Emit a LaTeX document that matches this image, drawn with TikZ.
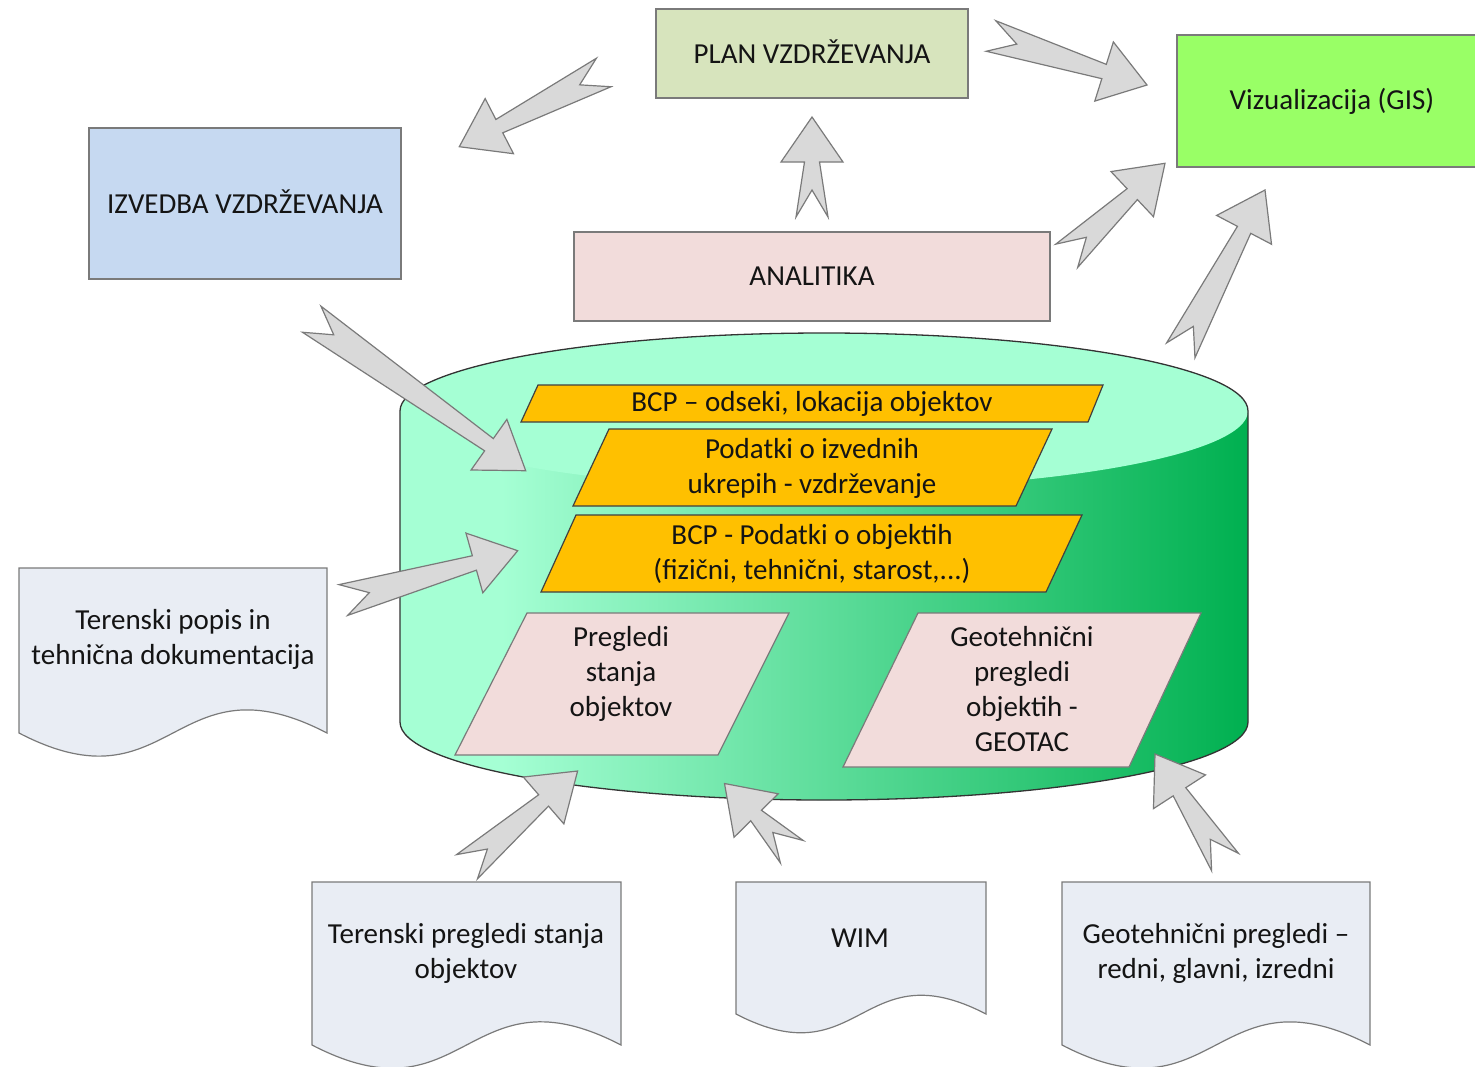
\documentclass[tikz,border=0pt]{standalone}
\usepackage{fontspec}
\setmainfont{Carlito}
\usetikzlibrary{calc}
\definecolor{mint}{HTML}{A5FFD4}
\definecolor{dgreen}{HTML}{00B050}
\definecolor{orng}{HTML}{FFC000}
\definecolor{pinkf}{HTML}{F2DCDB}
\definecolor{planf}{HTML}{D7E4BD}
\definecolor{izvf}{HTML}{C6D9F1}
\definecolor{gisf}{HTML}{99FF66}
\definecolor{docf}{HTML}{E9EDF4}
\definecolor{arrf}{HTML}{D9D9D9}
\definecolor{edgec}{HTML}{7A7A7A}
\definecolor{txt}{HTML}{141414}
\pgfdeclarehorizontalshading{cylshade}{100bp}{color(0bp)=(mint); color(31bp)=(mint); color(75bp)=(dgreen); color(100bp)=(dgreen)}
\tikzset{
  boxst/.style={draw=edgec, line width=1.2pt, inner sep=0pt, outer sep=0pt, text=txt, align=center},
  barrow/.style={draw=edgec, fill=arrf, line width=1.2pt, line join=miter},
  docst/.style={draw=edgec, fill=docf, line width=1.2pt},
  orpar/.style={draw=black!75, fill=orng, line width=1.2pt},
  pkpar/.style={draw=edgec, fill=pinkf, line width=1.2pt},
  lbl/.style={text=txt, align=center, inner sep=0pt}
}
\newcommand{\blockarrow}[2]{%
  \coordinate (hb) at ($(#2)!45pt!(#1)$);
  \draw[barrow] ($(#1)!16pt!90:(#2)$) -- ($(hb)!7.5pt!90:(#2)$) -- ($(hb)!31pt!90:(#2)$) -- (#2)
    -- ($(hb)!31pt!-90:(#2)$) -- ($(hb)!7.5pt!-90:(#2)$) -- ($(#1)!16pt!-90:(#2)$) -- ($(#1)!27pt!(#2)$) -- cycle;
}
\newcommand{\docshape}[4]{%
  \draw[docst] (#1,#3) -- (#2,#3) -- (#2,#4) .. controls ({(#1+#2)/2},{#4-0.26*(#2-#1)}) and ({(#1+#2)/2},{#4+0.26*(#2-#1)}) .. (#1,#4) -- cycle;
}
\begin{document}
\begin{tikzpicture}[x=1pt, y=-1pt, font=\fontsize{29}{35}\selectfont]
\useasboundingbox (0,0) rectangle (1475,1066);

% cylinder
\path[shading=cylshade] (400,411) arc[start angle=180, end angle=360, x radius=424, y radius=78]
  -- (1248,722) arc[start angle=0, end angle=180, x radius=424, y radius=78] -- cycle;
\fill[mint] (824,411) ellipse [x radius=424, y radius=78];
\draw[black!80, line width=1.3pt] (400,411) arc[start angle=180, end angle=360, x radius=424, y radius=78]
  -- (1248,722) arc[start angle=0, end angle=180, x radius=424, y radius=78] -- cycle;

% boxes
\node[boxst, fill=planf, minimum width=312pt, minimum height=89pt] (plan) at (812,53.5) {\raisebox{3pt}{PLAN VZDRŽEVANJA}};
\node[boxst, fill=izvf, minimum width=312pt, minimum height=151pt] (izv) at (245,203.5) {\raisebox{3pt}{IZVEDBA VZDRŽEVANJA}};
\node[boxst, fill=gisf, minimum width=310pt, minimum height=132pt] (gis) at (1332,101) {Vizualizacija (GIS)};
\node[boxst, fill=pinkf, minimum width=476pt, minimum height=89pt] (anal) at (812,276.5) {ANALITIKA};

% parallelograms in the cylinder
\draw[orpar] (538,385) -- (1103,385) -- (1088,422) -- (521,422) -- cycle;
\node[lbl] (bcp1) at (812,404) {BCP – odseki, lokacija objektov};
\draw[orpar] (609,429) -- (1052,429) -- (1016,506) -- (573,506) -- cycle;
\node[lbl] (izvpod) at (812,468) {Podatki o izvednih\\ukrepih - vzdrževanje};
\draw[orpar] (576,515) -- (1082,515) -- (1046,592) -- (541,592) -- cycle;
\node[lbl] (bcp2) at (812,554) {BCP - Podatki o objektih\\(fizični, tehnični, starost,...)};
\draw[pkpar] (527,613) -- (789,613) -- (718,755) -- (455,755) -- cycle;
\node[lbl] (preg) at (621,674) {Pregledi\\stanja\\objektov};
\draw[pkpar] (918,613) -- (1201,613) -- (1129,767) -- (843,767) -- cycle;
\node[lbl] (geo) at (1022,689) {Geotehnični\\pregledi\\objektih -\\GEOTAC};

% documents
\docshape{19}{327}{568}{733}
\node[lbl] (teren1) at (173,639) {Terenski popis in\\tehnična dokumentacija};
\docshape{312}{621}{882}{1045}
\node[lbl] (teren2) at (466,953) {Terenski pregledi stanja\\objektov};
\docshape{736}{986}{882}{1014}
\node[lbl] (wim) at (860,938) {WIM};
\docshape{1062}{1370}{882}{1045}
\node[lbl] (geo2) at (1216,953) {Geotehnični pregledi –\\redni, glavni, izredni};

% block arrows
\coordinate (a1s) at (603.7,72.5);  \coordinate (a1e) at (459.3,146.7);
\coordinate (a2s) at (991,36);      \coordinate (a2e) at (1147,85);
\coordinate (a3s) at (812,217);     \coordinate (a3e) at (812,117);
\coordinate (a4s) at (1066.7,255.8);\coordinate (a4e) at (1165,163.3);
\coordinate (a5s) at (1180.8,350.3);\coordinate (a5e) at (1265,190);
\coordinate (a6s) at (311.7,319.2); \coordinate (a6e) at (525.7,470.7);
\coordinate (a7s) at (343.3,600);   \coordinate (a7e) at (517.7,550.7);
\coordinate (a8s) at (467,866.7);   \coordinate (a8e) at (577.6,771);
\coordinate (a9s) at (791.8,851.7); \coordinate (a9e) at (724.5,783.5);
\coordinate (a10s) at (1225,862);   \coordinate (a10e) at (1155,754);
\blockarrow{a1s}{a1e}
\blockarrow{a2s}{a2e}
\blockarrow{a3s}{a3e}
\blockarrow{a4s}{a4e}
\blockarrow{a5s}{a5e}
\blockarrow{a6s}{a6e}
\blockarrow{a7s}{a7e}
\blockarrow{a8s}{a8e}
\blockarrow{a9s}{a9e}
\blockarrow{a10s}{a10e}
\end{tikzpicture}
\end{document}
